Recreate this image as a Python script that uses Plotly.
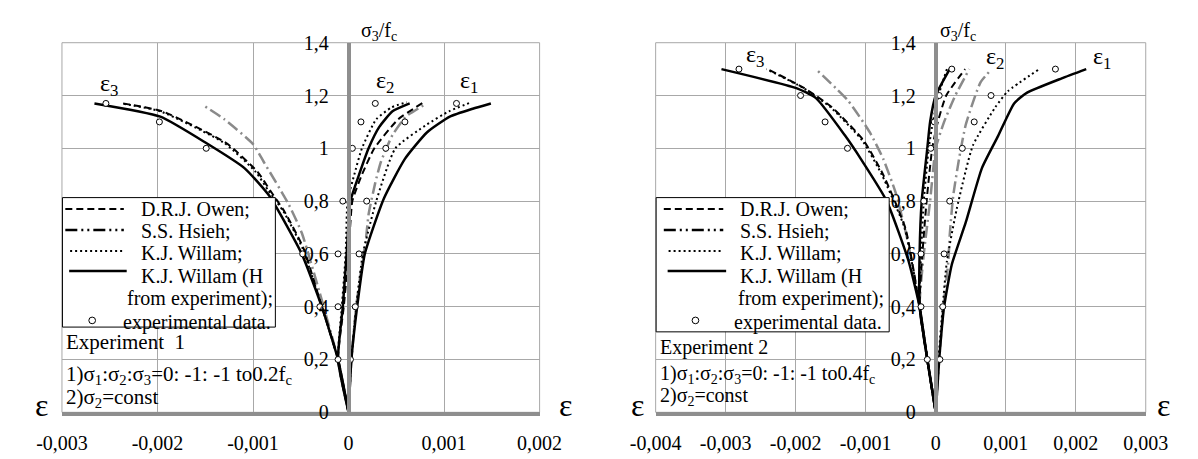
import plotly.graph_objects as go

W, H = 1198, 459

# ---------------- axis ticks ----------------
X1_TICKS = [-0.003, -0.002, -0.001, 0, 0.001, 0.002]
X1_LABELS = ['-0,003', '-0,002', '-0,001', '0', '0,001', '0,002']
X2_TICKS = [-0.004, -0.003, -0.002, -0.001, 0, 0.001, 0.002, 0.003]
X2_LABELS = ['-0,004', '-0,003', '-0,002', '-0,001', '0', '0,001', '0,002', '0,003']
Y_TICKS = [0, 0.2, 0.4, 0.6, 0.8, 1.0, 1.2, 1.4]
Y_LABELS = ['0', '0,2', '0,4', '0,6', '0,8', '1', '1,2', '1,4']

# ---------------- Experiment 1 ----------------
E1_SOLID_E3_X = [0, -0.00011, -0.00028, -0.00049, -0.00083, -0.00109, -0.00149, -0.00197, -0.00266]
E1_SOLID_E3_Y = [0, 0.2, 0.4, 0.6, 0.82, 0.925, 1.02, 1.12, 1.17]
E1_OWEN_E3_X = [0, -0.00011, -0.00028, -0.00047, -0.00067, -0.00082, -0.00095, -0.00128, -0.00195, -0.00236]
E1_OWEN_E3_Y = [0, 0.2, 0.4, 0.62, 0.76, 0.84, 0.91, 1.02, 1.14, 1.17]
E1_WILLAM_E3_X = [0, -0.00011, -0.00028, -0.00048, -0.00068, -0.00084, -0.00097, -0.00130, -0.00197, -0.00238]
E1_WILLAM_E3_Y = [0, 0.2, 0.4, 0.62, 0.76, 0.84, 0.91, 1.02, 1.14, 1.17]
E1_HSIEH_E3_X = [0, -0.00011, -0.00030, -0.00049, -0.00063, -0.00089, -0.00100, -0.00130, -0.00153]
E1_HSIEH_E3_Y = [0, 0.2, 0.45, 0.68, 0.79, 0.95, 1.016, 1.11, 1.165]

E1_SOLID_E2_X = [0, -0.00011, -0.00006, -0.00002, 0.00002, 0.00011, 0.00021, 0.00032, 0.00046, 0.00064]
E1_SOLID_E2_Y = [0, 0.2, 0.4, 0.6, 0.8, 0.9, 1.0, 1.08, 1.14, 1.17]
E1_WILLAM_E2_X = [0, -0.00011, -0.00007, -0.00003, -0.00001, 0.00006, 0.00014, 0.00029, 0.00045, 0.00061]
E1_WILLAM_E2_Y = [0, 0.2, 0.4, 0.6, 0.8, 0.9, 1.0, 1.11, 1.155, 1.175]
E1_OWEN_E2_X = [0, -0.00011, -0.00005, 0.0, 0.00004, 0.00014, 0.00027, 0.00052, 0.00079]
E1_OWEN_E2_Y = [0, 0.2, 0.4, 0.6, 0.8, 0.9, 1.0, 1.11, 1.175]
E1_HSIEH_E1_X = [0, 0.00003, 0.00008, 0.00014, 0.00018, 0.00021, 0.00028, 0.00034, 0.00046, 0.00060, 0.00082]
E1_HSIEH_E1_Y = [0, 0.2, 0.4, 0.56, 0.65, 0.75, 0.87, 0.95, 1.05, 1.12, 1.17]

E1_SOLID_E1_X = [0, 0.00003, 0.00009, 0.00017, 0.00037, 0.00059, 0.00082, 0.00106, 0.00130, 0.00149]
E1_SOLID_E1_Y = [0, 0.2, 0.4, 0.6, 0.81, 0.96, 1.06, 1.12, 1.15, 1.17]
E1_WILLAM_E1_X = [0, 0.00003, 0.00008, 0.00015, 0.00029, 0.00049, 0.00082, 0.00105, 0.00129]
E1_WILLAM_E1_Y = [0, 0.2, 0.4, 0.6, 0.8, 1.0, 1.09, 1.14, 1.175]

EXP1_E3_X = [-0.00011, -0.00030, -0.00048, -0.00149, -0.00198, -0.00254]
EXP1_E3_Y = [0.2, 0.4, 0.6, 1.0, 1.1, 1.17]
EXP1_E2_X = [-0.00011, -0.00011, -0.00006, 0.00004, 0.00013, 0.00028]
EXP1_E2_Y = [0.4, 0.6, 0.8, 1.0, 1.1, 1.17]
EXP1_E1_X = [0.00002, 0.00007, 0.00011, 0.00019, 0.00039, 0.00059, 0.00113]
EXP1_E1_Y = [0.2, 0.4, 0.6, 0.8, 1.0, 1.1, 1.17]

# ---------------- Experiment 2 ----------------
E2_SOLID_E3_X = [0, -0.00012, -0.00023, -0.00039, -0.00070, -0.00107, -0.00130, -0.00171, -0.00199, -0.00306]
E2_SOLID_E3_Y = [0, 0.2, 0.4, 0.575, 0.8, 0.96, 1.05, 1.19, 1.228, 1.3]
E2_OWEN_E3_X = [0, -0.00012, -0.00023, -0.00043, -0.00075, -0.00103, -0.00148, -0.00189, -0.00240]
E2_OWEN_E3_Y = [0, 0.2, 0.4, 0.695, 0.90, 1.03, 1.155, 1.23, 1.3]
E2_WILLAM_E3_X = [0, -0.00012, -0.00023, -0.00044, -0.00077, -0.00105, -0.00150, -0.00190, -0.00242]
E2_WILLAM_E3_Y = [0, 0.2, 0.4, 0.695, 0.90, 1.03, 1.155, 1.23, 1.3]
E2_HSIEH_E3_X = [0, -0.00012, -0.00023, -0.00040, -0.00057, -0.00075, -0.00094, -0.00125, -0.00171]
E2_HSIEH_E3_Y = [0, 0.2, 0.4, 0.65, 0.83, 0.96, 1.06, 1.18, 1.3]

E2_SOLID_E2_X = [0, -0.00012, -0.00023, -0.00023, -0.00020, -0.00012, -0.00008, 0.0, 0.00020]
E2_SOLID_E2_Y = [0, 0.2, 0.4, 0.6, 0.8, 1.0, 1.1, 1.2, 1.3]
E2_WILLAM_E2_X = [0, -0.00012, -0.00023, -0.00021, -0.00017, -0.00010, -0.00004, 0.00004, 0.00016]
E2_WILLAM_E2_Y = [0, 0.2, 0.4, 0.6, 0.8, 1.0, 1.1, 1.2, 1.3]
E2_OWEN_E2_X = [0, -0.00012, -0.00023, -0.00019, -0.00013, -0.00005, 0.00003, 0.00015, 0.00042]
E2_OWEN_E2_Y = [0, 0.2, 0.4, 0.6, 0.8, 1.0, 1.1, 1.2, 1.3]
E2_HSIEH_E2_X = [0, -0.00012, -0.00023, -0.00017, -0.00008, 0.0, 0.00012, 0.00028, 0.00048]
E2_HSIEH_E2_Y = [0, 0.2, 0.4, 0.6, 0.8, 1.0, 1.1, 1.2, 1.3]
E2_HSIEH_E1_X = [0, 0.00005, 0.00011, 0.00018, 0.00020, 0.00025, 0.00034, 0.00043, 0.00064, 0.00080]
E2_HSIEH_E1_Y = [0, 0.2, 0.4, 0.57, 0.67, 0.82, 0.97, 1.09, 1.25, 1.3]

E2_SOLID_E1_X = [0, 0.00005, 0.00012, 0.00023, 0.00043, 0.00066, 0.00089, 0.00112, 0.00130, 0.00180, 0.00215]
E2_SOLID_E1_Y = [0, 0.2, 0.4, 0.56, 0.72, 0.925, 1.046, 1.17, 1.21, 1.265, 1.3]
E2_WILLAM_E1_X = [0, 0.00004, 0.00010, 0.00016, 0.00030, 0.00053, 0.00085, 0.00103, 0.00148]
E2_WILLAM_E1_Y = [0, 0.2, 0.4, 0.573, 0.77, 1.01, 1.155, 1.216, 1.3]

EXP2_E3_X = [-0.00012, -0.00021, -0.00126, -0.00158, -0.00193, -0.00281]
EXP2_E3_Y = [0.2, 0.4, 1.0, 1.1, 1.2, 1.3]
EXP2_E2_X = [-0.00021, -0.00017, -0.00007, -0.00002, 0.00005, 0.00023]
EXP2_E2_Y = [0.6, 0.8, 1.0, 1.1, 1.2, 1.3]
EXP2_E1_X = [0.00006, 0.00010, 0.00012, 0.00020, 0.00038, 0.00055, 0.00079, 0.00171]
EXP2_E1_Y = [0.2, 0.4, 0.6, 0.8, 1.0, 1.1, 1.2, 1.3]

# ---------------- styles ----------------
FONT = 'Liberation Serif'
GRID = '#a8a8a8'
AXIS = '#8e8e8e'
STY = {
    'hsieh': dict(color='#8a8a8a', width=2.5, dash='12px,4px,2px,4px'),
    'owen': dict(color='black', width=2, dash='7px,4px'),
    'willam': dict(color='black', width=2, dash='2px,3px'),
    'solid': dict(color='black', width=2.5, dash='solid'),
}

fig = go.Figure()


def curve(x, y, sty, ax):
    xa, ya = ('x', 'y') if ax == 1 else ('x2', 'y2')
    fig.add_trace(go.Scatter(x=x, y=y, mode='lines', line=dict(shape='spline', smoothing=0.5, **STY[sty]),
                             xaxis=xa, yaxis=ya, showlegend=False, hoverinfo='skip'))


def points(x, y, ax):
    xa, ya = ('x', 'y') if ax == 1 else ('x2', 'y2')
    fig.add_trace(go.Scatter(x=x, y=y, mode='markers',
                             marker=dict(symbol='circle', size=6, color='white', line=dict(color='black', width=1)),
                             xaxis=xa, yaxis=ya, showlegend=False))


# experiment 1
curve(E1_HSIEH_E3_X, E1_HSIEH_E3_Y, 'hsieh', 1)
curve(E1_HSIEH_E1_X, E1_HSIEH_E1_Y, 'hsieh', 1)
curve(E1_OWEN_E3_X, E1_OWEN_E3_Y, 'owen', 1)
curve(E1_OWEN_E2_X, E1_OWEN_E2_Y, 'owen', 1)
curve(E1_WILLAM_E3_X, E1_WILLAM_E3_Y, 'willam', 1)
curve(E1_WILLAM_E2_X, E1_WILLAM_E2_Y, 'willam', 1)
curve(E1_WILLAM_E1_X, E1_WILLAM_E1_Y, 'willam', 1)
curve(E1_SOLID_E3_X, E1_SOLID_E3_Y, 'solid', 1)
curve(E1_SOLID_E2_X, E1_SOLID_E2_Y, 'solid', 1)
curve(E1_SOLID_E1_X, E1_SOLID_E1_Y, 'solid', 1)
points(EXP1_E3_X, EXP1_E3_Y, 1)
points(EXP1_E2_X, EXP1_E2_Y, 1)
points(EXP1_E1_X, EXP1_E1_Y, 1)

# experiment 2
curve(E2_HSIEH_E3_X, E2_HSIEH_E3_Y, 'hsieh', 2)
curve(E2_HSIEH_E2_X, E2_HSIEH_E2_Y, 'hsieh', 2)
curve(E2_HSIEH_E1_X, E2_HSIEH_E1_Y, 'hsieh', 2)
curve(E2_OWEN_E3_X, E2_OWEN_E3_Y, 'owen', 2)
curve(E2_OWEN_E2_X, E2_OWEN_E2_Y, 'owen', 2)
curve(E2_WILLAM_E3_X, E2_WILLAM_E3_Y, 'willam', 2)
curve(E2_WILLAM_E2_X, E2_WILLAM_E2_Y, 'willam', 2)
curve(E2_WILLAM_E1_X, E2_WILLAM_E1_Y, 'willam', 2)
curve(E2_SOLID_E3_X, E2_SOLID_E3_Y, 'solid', 2)
curve(E2_SOLID_E2_X, E2_SOLID_E2_Y, 'solid', 2)
curve(E2_SOLID_E1_X, E2_SOLID_E1_Y, 'solid', 2)
points(EXP2_E3_X, EXP2_E3_Y, 2)
points(EXP2_E2_X, EXP2_E2_Y, 2)
points(EXP2_E1_X, EXP2_E1_Y, 2)


# ---------------- layout ----------------
def px(x):
    return x / W


def py(y):
    return 1 - y / H


Y_DOM = [py(421.5), py(33.3)]
X1_DOM = [px(37.5), px(535.5)]
X2_DOM = [px(656.5), px(1167.5)]
X1_ZERO = 336.3
X2_ZERO = 948.3

tickfont = dict(family=FONT, size=20, color='black')
xcommon = dict(showgrid=True, gridcolor=GRID, gridwidth=1, zeroline=False, showline=True,
               linecolor=AXIS, linewidth=4, ticks='', tickfont=tickfont, ticklabelstandoff=10,
               fixedrange=True)
ycommon = dict(range=[0, 1.4], domain=Y_DOM, tickvals=Y_TICKS, ticktext=Y_LABELS, showgrid=True,
               gridcolor=GRID, gridwidth=1, zeroline=False, showline=True, linecolor=AXIS, linewidth=3.5,
               ticks='', tickfont=tickfont, ticklabelstandoff=14, anchor='free', fixedrange=True)

fig.update_layout(
    width=W, height=H, margin=dict(l=0, r=0, t=0, b=0),
    paper_bgcolor='white', plot_bgcolor='white', showlegend=False,
    xaxis=dict(domain=X1_DOM, range=[-0.003, 0.002], tickvals=X1_TICKS, ticktext=X1_LABELS, anchor='y', **xcommon),
    yaxis=dict(position=px(X1_ZERO), **ycommon),
    xaxis2=dict(domain=X2_DOM, range=[-0.004, 0.003], tickvals=X2_TICKS, ticktext=X2_LABELS, anchor='y2', **xcommon),
    yaxis2=dict(position=px(X2_ZERO), **ycommon),
)

shapes = []
# plot borders
for xr, yr in (('x domain', 'y domain'), ('x2 domain', 'y2 domain')):
    shapes.append(dict(type='rect', xref=xr, yref=yr, x0=0, x1=1, y0=0, y1=1,
                       line=dict(color=GRID, width=1), layer='below'))

annotations = []


def text(x, y, s, size=20, xanchor='left', yanchor='middle'):
    annotations.append(dict(x=px(x), y=py(y), xref='paper', yref='paper', text=s, showarrow=False,
                            xanchor=xanchor, yanchor=yanchor, font=dict(family=FONT, size=size, color='black')))


def hline(x0, x1, y, sty):
    s = STY[sty].copy()
    if sty == 'hsieh':
        s = dict(color='black', width=2.5, dash='12px,4px,2px,4px,2px,4px')
    shapes.append(dict(type='line', xref='paper', yref='paper', x0=px(x0), x1=px(x1), y0=py(y), y1=py(y),
                       line=s))


LEGEND_ITEMS = ['D.R.J. Owen;', 'S.S. Hsieh;', 'K.J. Willam;', 'K.J. Willam (H', 'from experiment);',
                'experimental data.']


def legend(bx0, bx1, by0, by1, lx0, lx1, tx, tx2, tx3, cx):
    shapes.append(dict(type='rect', xref='paper', yref='paper', x0=px(bx0), x1=px(bx1), y0=py(by0), y1=py(by1),
                       line=dict(color='black', width=1), fillcolor='white', layer='above'))
    hline(lx0, lx1, 208, 'owen')
    hline(lx0, lx1, 230, 'hsieh')
    hline(lx0 + 5, lx1, 252, 'willam')
    hline(lx0 + 4, lx1 + 3, 273, 'solid')
    shapes.append(dict(type='circle', xref='paper', yref='paper', x0=px(cx - 3.5), x1=px(cx + 3.5),
                       y0=py(325 + 3.5), y1=py(325 - 3.5), line=dict(color='black', width=1), fillcolor='white'))
    text(tx, 208, LEGEND_ITEMS[0])
    text(tx, 231, LEGEND_ITEMS[1])
    text(tx, 254, LEGEND_ITEMS[2])
    text(tx, 279, LEGEND_ITEMS[3])
    text(tx2, 302, LEGEND_ITEMS[4])
    text(tx3, 327, LEGEND_ITEMS[5])


legend(38, 260, 196, 332, 41, 102, 118, 103, 99, 69)
legend(657, 900, 196, 337, 665, 727, 742, 740, 736, 698)

# notes
text(40, 348, 'Experiment  1', size=21)
text(40, 382, '1)σ<sub>1</sub>:σ<sub>2</sub>:σ<sub>3</sub>=0: -1: -1 to0.2f<sub>c</sub>', size=21)
text(40, 407, '2)σ<sub>2</sub>=const', size=21)
text(659, 353, 'Experiment 2', size=20)
text(659, 382, '1)σ<sub>1</sub>:σ<sub>2</sub>:σ<sub>3</sub>=0: -1: -1 to0.4f<sub>c</sub>', size=20)
text(659, 405, '2)σ<sub>2</sub>=const', size=20)

# axis titles
text(347, 22, 'σ<sub>3</sub>/f<sub>c</sub>', size=20)
text(951, 22, 'σ<sub>3</sub>/f<sub>c</sub>', size=20)
for ex in (16, 563, 638, 1186):
    text(ex, 414, 'ε', size=32, xanchor='center')

# curve labels
text(87, 78, 'ε<sub>3</sub>', size=24, xanchor='center')
text(374, 75, 'ε<sub>2</sub>', size=24, xanchor='center')
text(462, 75, 'ε<sub>1</sub>', size=24, xanchor='center')
text(760, 47, 'ε<sub>3</sub>', size=24, xanchor='center')
text(1010, 49, 'ε<sub>2</sub>', size=24, xanchor='center')
text(1122, 49, 'ε<sub>1</sub>', size=24, xanchor='center')

fig.update_layout(shapes=shapes, annotations=annotations)
fig.write_html('out.html')
